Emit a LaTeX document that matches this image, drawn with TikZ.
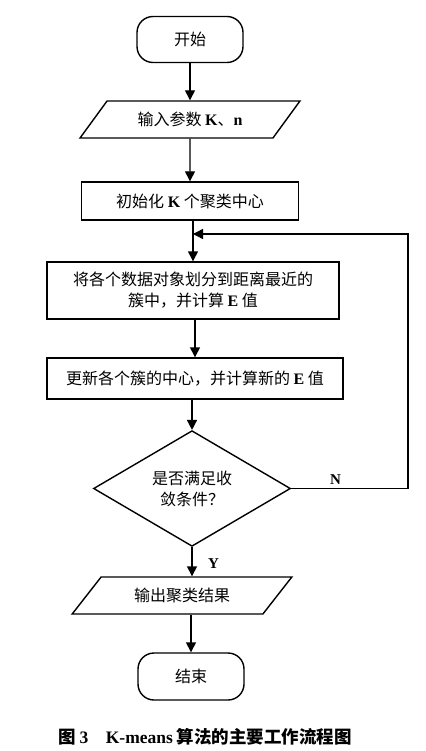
\documentclass[tikz,border=0pt]{standalone}
\usepackage{fontspec}
\setmainfont{Liberation Serif}
\newfontfamily\zh{Noto Sans CJK SC}
\usetikzlibrary{arrows.meta,positioning,shapes.geometric}
\newcommand\lt[1]{{\rmfamily\bfseries #1}}

\tikzset{
  base/.style={draw,line width=1.4pt,font=\zh\fontsize{16}{21}\selectfont,align=center,inner sep=0pt},
  terminal/.style={base,rectangle,rounded corners=16pt,minimum width=106pt,minimum height=46pt},
  io/.style={base,trapezium,trapezium left angle=41,trapezium right angle=139,trapezium stretches=true,minimum width=220pt,minimum height=37pt},
  process/.style={base,rectangle},
  decision/.style={base,diamond,minimum width=197pt,minimum height=93pt},
  arr/.style={line width=1.4pt,-{Triangle[length=10pt,width=10pt]}},
  yn/.style={font=\rmfamily\bfseries\fontsize{15}{18}\selectfont}
}

\begin{document}
\begin{tikzpicture}[node distance=80pt,on grid]
   \useasboundingbox (0,0) rectangle (425pt,-751pt);
   \node[terminal] (start) at (190pt,-39.5pt) {开始};
   \node[io] (input) [below=80pt of start] {输入参数 \lt{K}、\lt{n}};
   \node[process,minimum width=217pt,minimum height=38pt] (init) [below=81.5pt of input] {初始化 \lt{K} 个聚类中心};
   \node[process,minimum width=292pt,minimum height=57pt] (assign) [below=89.5pt of init,xshift=3pt] {将各个数据对象划分到距离最近的\\簇中，并计算 \lt{E} 值};
   \node[process,minimum width=296pt,minimum height=41pt] (update) [below=88pt of assign,xshift=2pt] {更新各个簇的中心，并计算新的 \lt{E} 值};
   \node[decision] (check) [below=110pt of update,xshift=-3pt] {是否满足收\\敛条件？};
   \node[io] (output) [below=107pt of check,xshift=-10pt] {输出聚类结果};
   \node[terminal,minimum height=47pt] (stop) [below=81pt of output,xshift=9pt] {结束};
   \node[font=\zh\bfseries\fontsize{17.5}{21}\selectfont] (caption) at (205pt,-737pt) {图 \lt{3}\quad \lt{K-means} 算法的主要工作流程图};

   \coordinate (merge) at (193pt,-234pt);
   \coordinate (corner) at (408pt,-234pt);

   \draw[arr] (start) -- (input);
   \draw[arr] (input) -- (init);
   \draw[arr] (init.south -| assign.north) -- (assign);
   \draw[arr] (assign.south -| update.north) -- (update);
   \draw[arr] (update.south -| check.north) -- (check);
   \draw[arr] (check) -- node[yn,right=12pt,pos=0.55] {Y} (output.north -| check.south);
   \draw[arr] (output.south -| stop.north) -- (stop);
   \draw[arr] (check.east) -| node[yn,above,pos=0.19] {N} (corner) -- (merge);
\end{tikzpicture}
\end{document}
